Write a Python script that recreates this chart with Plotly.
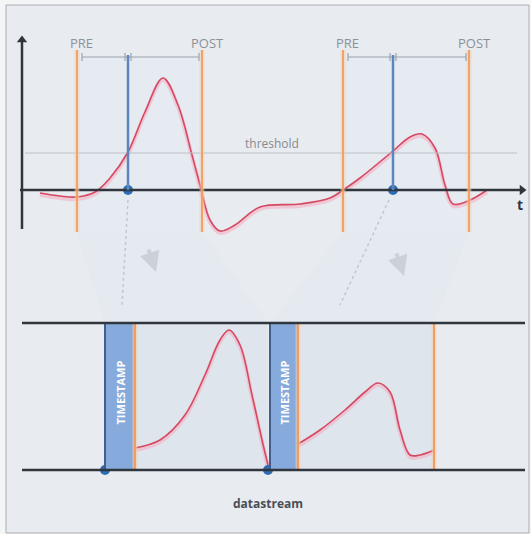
import plotly.graph_objects as go

# ---- diagram data (pixel-space coordinates of a 531x534 canvas) ----
trigger_top = [128, 393]          # blue trigger lines / dots on the time axis
pre_top = [77, 343]               # PRE boundaries
post_top = [202, 469]             # POST boundaries
pre_labels = ["PRE", "PRE"]
post_labels = ["POST", "POST"]

sig_top_x = [40, 60, 77, 95, 110, 128, 145, 163, 178, 192, 200, 210, 220, 235, 260, 300, 330,
             343, 360, 393, 410, 422, 435, 445, 453, 470, 487]
sig_top_y = [193, 196, 197, 192, 178, 152, 112, 78, 105, 155, 185, 220, 231, 225, 207, 204, 198,
             190, 178, 151, 137, 134, 148, 185, 204, 200, 190]

ts_start = [105, 270]             # TIMESTAMP block start in datastream
ts_end = [135, 298]               # TIMESTAMP block end
post_bottom = [268, 434]          # end of each record

sig_b1_x = [135, 160, 185, 205, 220, 229, 240, 252, 262, 268]
sig_b1_y = [448, 440, 415, 375, 340, 330, 345, 395, 440, 465]
sig_b2_x = [298, 320, 345, 365, 378, 390, 400, 410, 420, 434]
sig_b2_y = [444, 430, 410, 392, 383, 392, 430, 455, 455, 450]

axis_y = 190
threshold_y = 153
stream_top = 323
stream_bot = 470

DARK = "#30363d"
ORANGE = "#ef9d62"
BLUE = "#5d86bf"
DOT = "#2e6db4"
RED = "#d44a63"
PINK = "rgba(245,175,195,0.6)"
GRAY = "#8c9198"

fig = go.Figure()
shapes = []
annotations = []

# frame
shapes.append(dict(type="rect", x0=6, y0=5, x1=529, y1=533, line=dict(color="#a9adb2", width=1),
                   fillcolor="#e8ebef", layer="below"))

# funnels (projection of windows to datastream)
funnels = [
    [(pre_top[0], 232), (post_top[0], 232), (post_bottom[0], stream_top), (ts_start[0], stream_top)],
    [(pre_top[1], 232), (post_top[1], 232), (post_bottom[1], stream_top), (ts_start[1], stream_top)],
]
for f in funnels:
    path = "M " + " L ".join(f"{x},{y}" for x, y in f) + " Z"
    shapes.append(dict(type="path", path=path, fillcolor="rgba(225,231,240,0.55)",
                       line=dict(width=0), layer="below"))
# window bands in the top plot
for a, b in zip(pre_top, post_top):
    shapes.append(dict(type="rect", x0=a, x1=b, y0=55, y1=232, fillcolor="rgba(228,234,243,0.5)",
                       line=dict(width=0), layer="below"))
# window bands in datastream
for a, b in zip(ts_end, post_bottom):
    shapes.append(dict(type="rect", x0=a, x1=b, y0=stream_top, y1=stream_bot,
                       fillcolor="rgba(218,226,237,0.7)", line=dict(width=0), layer="below"))

# dotted projection lines
fig.add_trace(go.Scatter(x=[trigger_top[0], ts_start[0] + 17], y=[200, 305], mode="lines",
                         line=dict(color="#c2c7ce", width=1.5, dash="dot"), hoverinfo="skip"))
fig.add_trace(go.Scatter(x=[trigger_top[1] - 4, 340], y=[200, 305], mode="lines",
                         line=dict(color="#c2c7ce", width=1.5, dash="dot"), hoverinfo="skip"))

# threshold line
shapes.append(dict(type="line", x0=25, x1=517, y0=threshold_y, y1=threshold_y,
                   line=dict(color="#bcc0c6", width=1)))
annotations.append(dict(x=272, y=143, text="threshold", showarrow=False,
                        font=dict(color="#868b92", size=12, family="Open Sans")))

# axes of the top plot
shapes.append(dict(type="line", x0=22, x1=22, y0=42, y1=229, line=dict(color=DARK, width=2.5)))
shapes.append(dict(type="line", x0=20, x1=520, y0=axis_y, y1=axis_y, line=dict(color=DARK, width=2.5)))
fig.add_trace(go.Scatter(x=[22], y=[40], mode="markers", hoverinfo="skip",
                         marker=dict(symbol="triangle-up", size=9, color=DARK)))
fig.add_trace(go.Scatter(x=[522], y=[axis_y], mode="markers", hoverinfo="skip",
                         marker=dict(symbol="triangle-right", size=9, color=DARK)))
annotations.append(dict(x=520, y=204, text="<b>t</b>", showarrow=False,
                        font=dict(color=DARK, size=14, family="Open Sans")))

# PRE/POST lines
for i, (a, b, t) in enumerate(zip(pre_top, post_top, trigger_top)):
    for x in (a, b):
        shapes.append(dict(type="line", x0=x, x1=x, y0=50, y1=232,
                           line=dict(color="rgba(250,205,170,0.5)", width=5)))
        shapes.append(dict(type="line", x0=x, x1=x, y0=50, y1=232, line=dict(color=ORANGE, width=1.8)))
    annotations.append(dict(x=a + 4, y=43, text=pre_labels[i], showarrow=False,
                            font=dict(color=GRAY, size=13, family="Open Sans")))
    annotations.append(dict(x=b + 5, y=43, text=post_labels[i], showarrow=False,
                            font=dict(color=GRAY, size=13, family="Open Sans")))
    # span arrow
    shapes.append(dict(type="line", x0=a + 5, x1=b - 3, y0=57, y1=57, line=dict(color="#9aa3ad", width=1.2)))
    for x in (a + 5, b - 3, t - 3, t + 3):
        shapes.append(dict(type="line", x0=x, x1=x, y0=53, y1=61, line=dict(color="#9aa3ad", width=1.2)))
    # trigger line
    shapes.append(dict(type="line", x0=t, x1=t, y0=55, y1=axis_y, line=dict(color=BLUE, width=2.5)))

# signal (glow + line)
fig.add_trace(go.Scatter(x=sig_top_x, y=[v + 2 for v in sig_top_y], mode="lines", line_shape="spline",
                         line=dict(color=PINK, width=4), hoverinfo="skip"))
fig.add_trace(go.Scatter(x=sig_top_x, y=sig_top_y, mode="lines", line_shape="spline",
                         line=dict(color=RED, width=1.6), hoverinfo="skip"))
fig.add_trace(go.Scatter(x=trigger_top, y=[axis_y] * len(trigger_top), mode="markers", hoverinfo="skip",
                         marker=dict(size=10, color=DOT)))

# datastream
for a, b, p in zip(ts_start, ts_end, post_bottom):
    shapes.append(dict(type="rect", x0=a, x1=b, y0=stream_top, y1=stream_bot,
                       fillcolor="#86aadb", line=dict(width=0)))
    shapes.append(dict(type="line", x0=a, x1=a, y0=stream_top, y1=stream_bot, line=dict(color="#3f5f8f", width=2)))
    shapes.append(dict(type="line", x0=b, x1=b, y0=stream_top, y1=stream_bot,
                       line=dict(color="rgba(250,205,170,0.6)", width=5)))
    shapes.append(dict(type="line", x0=b, x1=b, y0=stream_top, y1=stream_bot, line=dict(color=ORANGE, width=2)))
    annotations.append(dict(x=(a + b) / 2, y=(stream_top + stream_bot) / 2 - 4, text="<b>TIMESTAMP</b>",
                            textangle=-90, showarrow=False,
                            font=dict(color="white", size=11, family="Open Sans")))
shapes.append(dict(type="line", x0=post_bottom[1], x1=post_bottom[1], y0=stream_top, y1=stream_bot,
                   line=dict(color="rgba(250,205,170,0.6)", width=5)))
shapes.append(dict(type="line", x0=post_bottom[1], x1=post_bottom[1], y0=stream_top, y1=stream_bot,
                   line=dict(color=ORANGE, width=2)))

for xs, ys in ((sig_b1_x, sig_b1_y), (sig_b2_x, sig_b2_y)):
    fig.add_trace(go.Scatter(x=xs, y=[v + 2 for v in ys], mode="lines", line_shape="spline",
                             line=dict(color=PINK, width=4), hoverinfo="skip"))
    fig.add_trace(go.Scatter(x=xs, y=ys, mode="lines", line_shape="spline",
                             line=dict(color=RED, width=1.6), hoverinfo="skip"))

for y in (stream_top, stream_bot):
    shapes.append(dict(type="line", x0=22, x1=525, y0=y, y1=y, line=dict(color=DARK, width=2.5)))
fig.add_trace(go.Scatter(x=[ts_start[0], ts_start[1] - 2], y=[stream_bot, stream_bot], mode="markers",
                         hoverinfo="skip", marker=dict(size=10, color=DOT)))
annotations.append(dict(x=268, y=503, text="<b>datastream</b>", showarrow=False,
                        font=dict(color="#4a4f56", size=12, family="Open Sans")))

# faint downward arrows in the funnels
for ax, ay in ((150, 258), (398, 262)):
    annotations.append(dict(x=ax + 6, y=ay + 14, ax=ax - 2, ay=ay - 10, xref="x", yref="y", axref="x", ayref="y",
                            showarrow=True, arrowhead=2, arrowsize=1, arrowwidth=4,
                            arrowcolor="rgba(175,181,190,0.45)", text=""))

fig.update_layout(
    width=531, height=534, margin=dict(l=0, r=0, t=0, b=0),
    paper_bgcolor="#f4f5f7", plot_bgcolor="rgba(0,0,0,0)",
    showlegend=False, shapes=shapes, annotations=annotations,
    xaxis=dict(range=[0, 531], visible=False, fixedrange=True),
    yaxis=dict(range=[534, 0], visible=False, fixedrange=True),
)
fig.write_html("out.html", config={"displayModeBar": False},
               post_script="document.body.style.margin='0';")
